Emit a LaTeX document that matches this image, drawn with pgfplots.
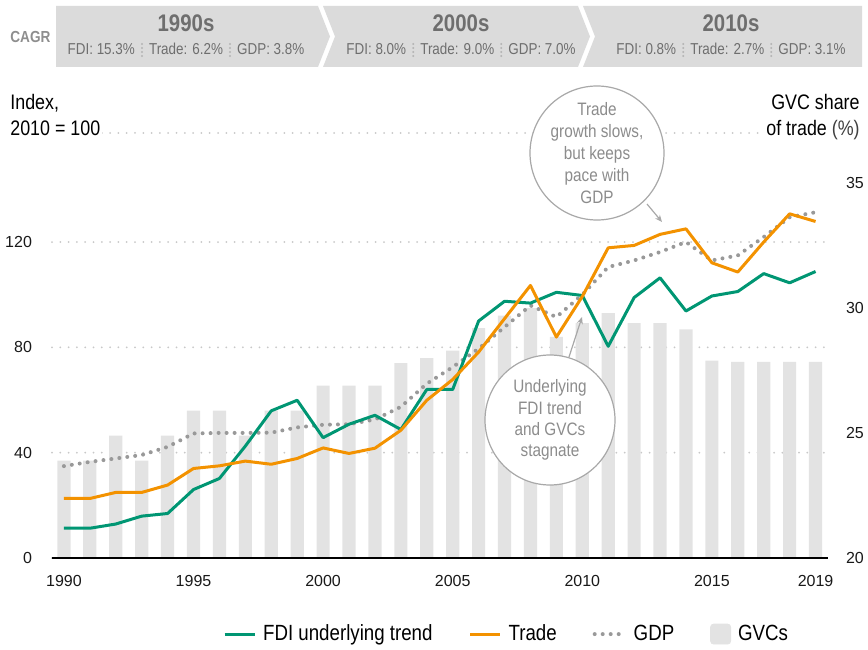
\documentclass[border=0pt]{standalone}
\usepackage{pgfplots}
\usepackage{pgfplotstable}
\pgfplotsset{compat=1.18}
\usetikzlibrary{arrows.meta}
\usepackage{fontspec}
\setmainfont{Liberation Sans}
\newfontfamily\cond{Liberation Sans}[FakeStretch=0.85]

\definecolor{fdi}{HTML}{009673}
\definecolor{trade}{HTML}{F39200}
\definecolor{gdp}{HTML}{999999}
\definecolor{gvc}{HTML}{E3E3E3}
\definecolor{gridc}{HTML}{C8C8C8}
\definecolor{band}{HTML}{DBDBDB}
\definecolor{bandtxt}{HTML}{6E6E6E}
\definecolor{cagr}{HTML}{8E8E8E}
\definecolor{sepc}{HTML}{B4B4B4}
\definecolor{note}{HTML}{8C8C8C}
\definecolor{notel}{HTML}{A8A8A8}

% GVC share of trade (%), right axis
\pgfplotstableread{
year gvc
1990 23.9
1991 23.9
1992 24.9
1993 23.9
1994 24.9
1995 25.9
1996 25.9
1997 24.9
1998 25.9
1999 25.9
2000 26.9
2001 26.9
2002 26.9
2003 27.8
2004 28.0
2005 28.3
2006 29.2
2007 29.7
2008 30.0
2009 28.85
2010 29.4
2011 29.8
2012 29.4
2013 29.4
2014 29.15
2015 27.9
2016 27.85
2017 27.85
2018 27.85
2019 27.85
}\gvcdata

% index, 2010 = 100
\pgfplotstableread{
year fdi trade gdp
1990 11.3 22.6 34.9
1991 11.3 22.6 36.5
1992 12.9 24.9 37.8
1993 15.9 24.9 39.1
1994 16.9 27.7 42.2
1995 26.0 34.0 47.3
1996 30.2 35.0 47.5
1997 42.5 36.8 47.5
1998 55.9 35.6 47.6
1999 59.9 37.8 49.6
2000 45.7 41.8 50.6
2001 50.8 39.7 50.8
2002 54.2 41.7 52.6
2003 48.8 48.5 57.4
2004 64.0 59.9 66.2
2005 64.0 67.8 72.5
2006 90.0 78.2 79.5
2007 97.5 90.9 87.7
2008 96.8 103.5 95.9
2009 100.9 83.9 91.5
2010 99.7 99.3 100.0
2011 80.4 117.8 110.5
2012 98.9 118.7 113.0
2013 106.4 122.9 116.2
2014 93.8 125.0 120.0
2015 99.5 112.1 113.0
2016 101.2 108.6 114.9
2017 108.0 120.0 121.9
2018 104.5 130.7 129.4
2019 108.8 127.8 131.3
}\linedata

\pgfplotsset{
  base/.style={
    scale only axis, width=388pt, height=212.5pt,
    xmin=1989.54, xmax=2019.48,
    major tick length=0pt,
    tick label style={font=\fontsize{8}{9.6}\selectfont, text=black!90},
    /pgf/number format/assume math mode=true,
  },
}

\newcommand{\sep}{\hspace{3pt}\tikz[baseline=0pt]\draw[sepc, line width=1.1pt, line cap=round, dash pattern=on 0pt off 2pt] (0,-0.5pt) -- (0,6.5pt);\hspace{3pt}}

\begin{document}
\begin{tikzpicture}
\useasboundingbox (-26pt,-45.5pt) rectangle (408pt,279pt);

% header bands
\fill[band] (2pt,276pt) -- (133pt,276pt) -- (139pt,260.75pt) -- (133pt,245.5pt) -- (2pt,245.5pt) -- cycle;
\fill[band] (135.5pt,276pt) -- (263pt,276pt) -- (269pt,260.75pt) -- (263pt,245.5pt) -- (135.5pt,245.5pt) -- (141.5pt,260.75pt) -- cycle;
\fill[band] (265.5pt,276pt) -- (405pt,276pt) -- (405pt,245.5pt) -- (265.5pt,245.5pt) -- (271.5pt,260.75pt) -- cycle;
\node[anchor=west, inner sep=0pt, text=cagr, font=\cond\bfseries\fontsize{8}{10}\selectfont] at (-21pt,260.75pt) {CAGR};
\node[text=bandtxt, font=\cond\bfseries\fontsize{12}{14}\selectfont] at (67pt,267.5pt) {1990s};
\node[text=bandtxt, font=\cond\bfseries\fontsize{12}{14}\selectfont] at (204.5pt,267.5pt) {2000s};
\node[text=bandtxt, font=\cond\bfseries\fontsize{12}{14}\selectfont] at (339.5pt,267.5pt) {2010s};
\node[text=bandtxt, font=\cond\fontsize{7.9}{10}\selectfont] at (67pt,254.5pt) {FDI: 15.3\%\sep Trade: 6.2\%\sep GDP: 3.8\%};
\node[text=bandtxt, font=\cond\fontsize{7.9}{10}\selectfont] at (204.5pt,254.5pt) {FDI: 8.0\%\sep Trade: 9.0\%\sep GDP: 7.0\%};
\node[text=bandtxt, font=\cond\fontsize{7.9}{10}\selectfont] at (339.5pt,254.5pt) {FDI: 0.8\%\sep Trade: 2.7\%\sep GDP: 3.1\%};

% grid and left tick labels
\begin{axis}[base,
  ymin=0, ymax=161.4,
  axis x line=none, axis y line*=left,
  y axis line style={draw=none},
  xtick=\empty,
  ytick={0,40,80,120,161.4}, yticklabels={0,40,80,120,{}},
  yticklabel style={xshift=-6.5pt},
  ymajorgrids,
  grid style={gridc, line width=1pt, line cap=round, dash pattern=on 0pt off 4.15pt},
]
\end{axis}

% GVC bars, right axis
\begin{axis}[base,
  ymin=20, ymax=37,
  axis x line=none, axis y line*=right,
  y axis line style={draw=none},
  xtick=\empty,
  ytick={20,25,30,35},
  yticklabel style={xshift=5.5pt},
]
\addplot[ybar, bar width=6.6pt, fill=gvc, draw=none] table[x=year, y=gvc] {\gvcdata};
\end{axis}

% index lines
\begin{axis}[base,
  ymin=0, ymax=161.4,
  axis y line=none, axis x line*=bottom,
  x axis line style={-, black, line width=0.8pt},
  ytick=\empty,
  xtick={1990,1995,2000,2005,2010,2015,2019},
  xticklabel style={/pgf/number format/1000 sep={}, yshift=-5pt},
  legend style={at={(axis description cs:0.587,-0.179)}, anchor=center,
    draw=none, fill=none, font=\cond\fontsize{11}{12}\selectfont,
    /tikz/every even column/.append style={column sep=16pt},
    /tikz/every odd column/.append style={column sep=1.5pt}},
  legend columns=4, legend cell align=left,
  legend image code/.code={\draw[#1] (0pt,0pt) -- (15pt,0pt);},
]
\addplot[gdp, line width=2pt, line cap=round, dash pattern=on 0pt off 4pt, forget plot] table[x=year, y=gdp] {\linedata};
\addplot[fdi, line width=1.5pt, line join=round] table[x=year, y=fdi] {\linedata};
\addlegendentry{FDI underlying trend}
\addplot[trade, line width=1.5pt, line join=round] table[x=year, y=trade] {\linedata};
\addlegendentry{Trade}
\addlegendimage{gdp, line width=2pt, line cap=round, dash pattern=on 0pt off 4pt}
\addlegendentry{GDP}
\addlegendimage{legend image code/.code={\fill[gvc, rounded corners=1.5pt] (3pt,-5pt) rectangle (13pt,5pt);}}
\addlegendentry{GVCs}
\end{axis}

% axis titles
\node[anchor=base west, fill=white, inner xsep=1pt, inner ysep=2pt, font=\cond\fontsize{10.5}{12}\selectfont] at (-22pt,211pt) {2010 = 100};
\node[anchor=base west, inner xsep=1pt, font=\cond\fontsize{10.5}{12}\selectfont] at (-22pt,224pt) {Index,};
\node[anchor=base east, fill=white, inner xsep=1pt, inner ysep=2pt, font=\cond\fontsize{10.5}{12}\selectfont] at (405pt,211pt) {of trade \textcolor{black!75}{(\%)}};
\node[anchor=base east, inner xsep=1pt, font=\cond\fontsize{10.5}{12}\selectfont] at (405pt,224pt) {GVC share};

% annotations
\draw[notel, line width=0.6pt, fill=white] (272.5pt,202.5pt) circle (33.5pt);
\node[text=note, align=center, font=\cond\fontsize{9}{11}\selectfont] at (272.5pt,202.5pt) {Trade\\growth slows,\\but keeps\\pace with\\GDP};
\draw[notel, line width=0.6pt, -{Stealth[length=3.5pt,width=3pt]}] (297.5pt,177pt) -- (305pt,168pt);
\draw[notel, line width=0.6pt, fill=white] (249pt,69pt) circle (32.5pt);
\node[text=note, align=center, font=\cond\fontsize{9}{10.6}\selectfont] at (249pt,69pt) {Underlying\\FDI trend\\and GVCs\\stagnate};
\draw[notel, line width=0.6pt, -{Stealth[length=3.5pt,width=3pt]}] (258.5pt,100.5pt) -- (265pt,120.5pt);
\end{tikzpicture}
\end{document}
